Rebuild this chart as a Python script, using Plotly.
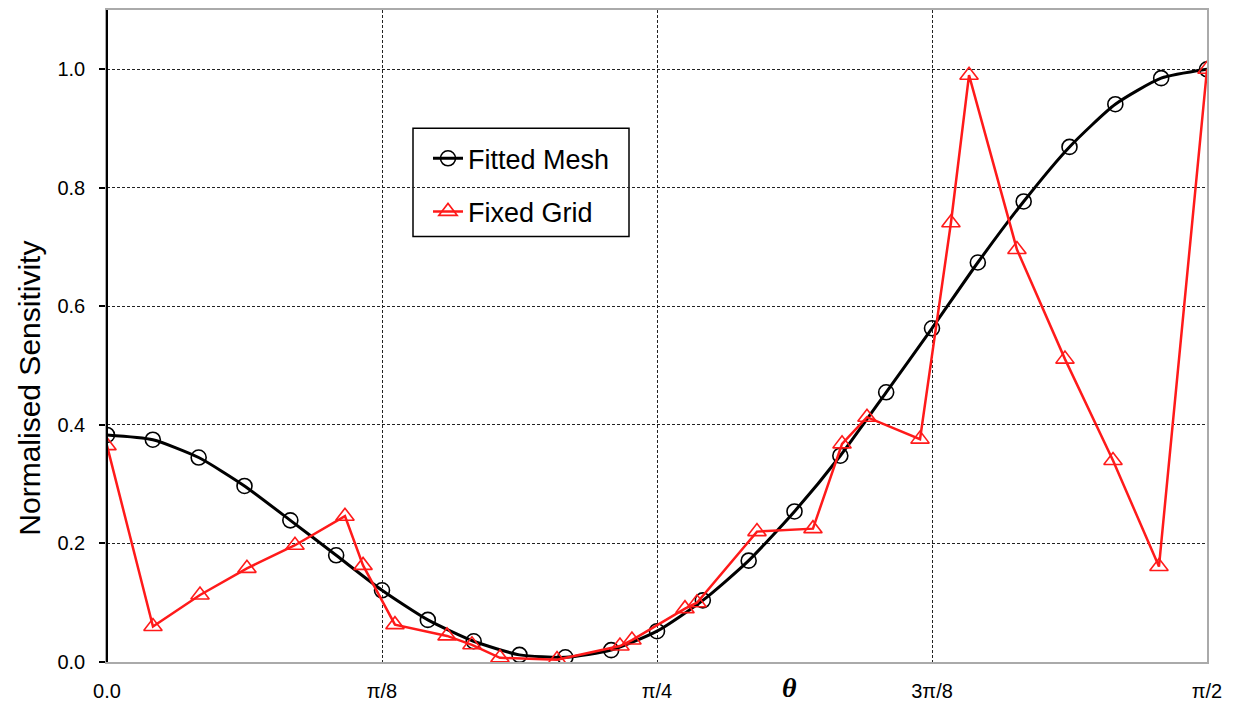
import plotly.graph_objects as go

# theta in degrees (0 .. 90 = pi/2)
theta_fitted = [0, 3.75, 7.5, 11.25, 15, 18.75, 22.5, 26.25, 30, 33.75, 37.5, 41.25,
                45, 48.75, 52.5, 56.25, 60, 63.75, 67.5, 71.25, 75, 78.75, 82.5, 86.25, 90]
sens_fitted = [0.383, 0.375, 0.345, 0.297, 0.239, 0.180, 0.121, 0.071, 0.035, 0.012, 0.008, 0.020,
               0.052, 0.104, 0.171, 0.254, 0.348, 0.455, 0.563, 0.674, 0.777, 0.869, 0.941, 0.985, 1.000]

theta_fixed = [0, 3.76, 7.61, 11.45, 15.38, 19.47, 20.95, 23.56, 27.82, 29.86, 32.15, 36.82,
               41.97, 42.95, 47.29, 48.27, 53.18, 57.76, 60.14, 62.18, 66.52, 69.05, 70.53,
               74.45, 78.38, 82.31, 86.07, 90]
sens_fixed = [0.365, 0.060, 0.113, 0.158, 0.197, 0.246, 0.163, 0.063, 0.044, 0.029, 0.007, 0.004,
              0.027, 0.037, 0.090, 0.100, 0.220, 0.225, 0.368, 0.413, 0.376, 0.741, 0.990,
              0.696, 0.511, 0.340, 0.161, 1.000]

x_tickvals = [0, 22.5, 45, 67.5, 90]
x_ticktext = ["0.0", "π/8", "π/4", "3π/8", "π/2"]
y_tickvals = [0, 0.2, 0.4, 0.6, 0.8, 1.0]
y_ticktext = ["0.0", "0.2", "0.4", "0.6", "0.8", "1.0"]

fig = go.Figure()
fig.add_trace(go.Scatter(
    x=theta_fitted, y=sens_fitted, name="Fitted Mesh", mode="lines+markers",
    line=dict(color="black", width=3, shape="spline", smoothing=0.6),
    marker=dict(symbol="circle-open", size=15, color="black", line=dict(width=1.6)),
    legendgroup="a"))
fig.add_trace(go.Scatter(
    x=theta_fixed, y=sens_fixed, name="Fixed Grid", mode="lines+markers",
    line=dict(color="#ff1a1a", width=2.5),
    marker=dict(symbol="triangle-up-open", size=16, color="#ff1a1a", line=dict(width=1.6)),
    legendgroup="b"))

font_family = "Arial, Liberation Sans, sans-serif"

# page has an 8px body margin: figure origin is at page (8, 8)
L, T = 99, 0
PW, PH = 1100, 656
W, H = 1222, 694

def px(xp):  # page x -> paper fraction
    return (xp - 8 - L) / PW

def py(yp):  # page y -> paper fraction
    return 1 - (yp - 8 - T) / PH

fig.update_layout(
    width=W, height=H,
    margin=dict(l=L, r=W - L - PW, t=T, b=H - T - PH),
    paper_bgcolor="white", plot_bgcolor="white",
    font=dict(family=font_family, color="black"),
    showlegend=True,
    legend=dict(x=px(428), y=py(133), xanchor="left", yanchor="top",
                bgcolor="rgba(0,0,0,0)", borderwidth=0,
                font=dict(size=27, family=font_family, color="black"),
                traceorder="grouped", tracegroupgap=15),
    xaxis=dict(range=[0, 90], tickvals=x_tickvals, ticktext=x_ticktext,
               showgrid=True, gridcolor="#222", griddash="3px,2px", gridwidth=1,
               zeroline=False, showline=True, linecolor="#aaaaaa", linewidth=2, mirror=True,
               ticks="outside", ticklen=10, tickcolor="rgba(0,0,0,0)",
               tickfont=dict(size=20, family=font_family, color="black")),
    yaxis=dict(range=[0, 1.1], tickvals=y_tickvals, ticktext=y_ticktext,
               showgrid=True, gridcolor="#222", griddash="3px,2px", gridwidth=1,
               zeroline=False, showline=True, linecolor="#aaaaaa", linewidth=1.5, mirror=True,
               ticks="outside", ticklen=6, tickcolor="black", tickwidth=1.5,
               ticklabelstandoff=10,
               tickfont=dict(size=20, family=font_family, color="black")),
    shapes=[
        dict(type="line", xref="paper", yref="paper", x0=0, x1=0, y0=0, y1=1,
             line=dict(color="black", width=2), layer="above"),
        dict(type="rect", xref="paper", yref="paper",
             x0=px(413), x1=px(629), y0=py(236), y1=py(127),
             line=dict(color="black", width=1.5), fillcolor="white", layer="below"),
    ],
    annotations=[
        dict(text="Normalised Sensitivity", xref="paper", yref="paper",
             x=px(30), y=py(388), textangle=-90, showarrow=False,
             xanchor="center", yanchor="middle",
             font=dict(size=30, family=font_family, color="black")),
        dict(text="<b><i>θ</i></b>", xref="paper", yref="paper",
             x=px(790), y=py(690), showarrow=False,
             xanchor="center", yanchor="middle",
             font=dict(size=28, family="Liberation Serif, serif", color="black")),
    ],
)

fig.write_html("out.html")
